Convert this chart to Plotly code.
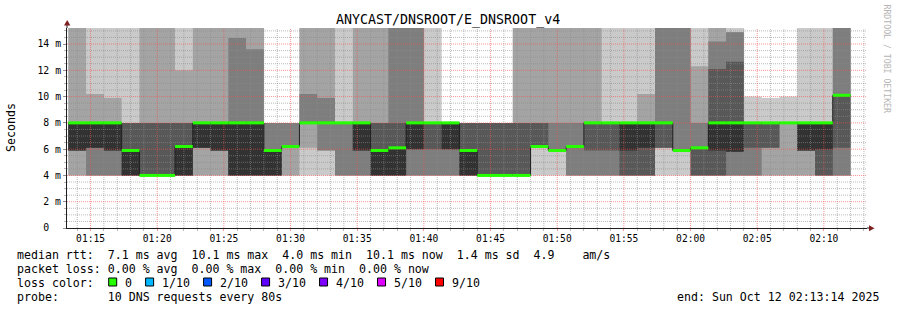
import plotly.graph_objects as go
from datetime import datetime, timedelta

# ---------------- data ----------------
first_step = "2025-10-12 01:13:20"
step_seconds = 80
axis_start = "2025-10-12 01:13:14"
axis_end = "2025-10-12 02:13:14"

# sorted ping round-trip times (ms) of the 10 probes in each 80 s step
ping_1 = [4.0, 4.0, 4.0, 4.0, 4.0, 4.0, 4.0, 4.0, 4.0, 4.0, 4.0, 4.0, 4.0, 4.0, 4.0, 4.0, 4.0, 4.0, 4.0, 4.0, 4.0, 4.0,
          4.0, 4.0, 4.0, 4.0, 4.0, 4.0, 4.0, 4.0, 4.0, 4.0, 4.0, 4.0, 4.0, 4.0, 4.0, 4.0, 4.0, 4.0, 4.0, 4.0, 4.0, 4.0]
ping_2 = [4.0, 4.0, 4.0, 4.0, 4.0, 4.0, 4.0, 4.0, 4.0, 4.0, 4.0, 4.0, 4.0, 6.1, 5.9, 4.0, 4.0, 4.0, 4.0, 4.0, 4.0, 4.0,
          4.0, 4.0, 4.0, 4.0, 6.2, 5.9, 4.0, 4.0, 4.0, 4.0, 4.0, 6.1, 5.9, 4.0, 4.0, 4.0, 4.0, 4.0, 4.0, 4.0, 4.0, 4.0]
ping_3 = [5.9, 4.0, 4.0, 4.0, 4.0, 4.0, 4.0, 6.1, 5.9, 4.0, 4.0, 4.0, 6.2, 8.0, 5.9, 4.0, 4.0, 4.0, 4.0, 4.0, 4.0, 4.0,
          4.0, 4.0, 4.0, 4.0, 6.2, 5.9, 4.0, 4.0, 4.0, 4.0, 4.0, 6.1, 5.9, 4.0, 4.0, 4.0, 4.0, 6.1, 8.0, 5.9, 4.0, 4.0]
ping_4 = [5.9, 6.1, 5.9, 4.0, 4.0, 4.0, 4.0, 6.1, 5.9, 4.0, 4.0, 4.0, 6.2, 8.0, 8.0, 8.0, 5.9, 4.0, 4.0, 6.0, 6.0, 6.0,
          4.0, 4.0, 4.0, 4.0, 6.2, 5.9, 6.2, 5.9, 5.9, 4.0, 4.0, 6.1, 5.9, 4.0, 4.0, 5.8, 6.1, 6.1, 8.0, 5.9, 4.0, 6.1]
ping_5 = [5.9, 6.1, 5.9, 4.0, 4.0, 4.0, 4.0, 6.1, 5.9, 4.0, 4.0, 4.0, 6.2, 8.0, 8.0, 8.0, 5.9, 4.0, 4.0, 6.0, 8.0, 6.0,
          4.0, 4.0, 4.0, 4.0, 6.2, 5.9, 6.2, 8.0, 8.0, 5.9, 6.1, 8.0, 5.9, 6.1, 5.9, 5.8, 8.0, 8.0, 8.0, 5.9, 6.0, 10.1]
ping_6 = [8.0, 8.0, 8.0, 5.9, 4.0, 4.0, 6.2, 8.0, 8.0, 8.0, 8.0, 5.9, 6.2, 8.0, 8.0, 8.0, 8.0, 5.9, 6.1, 8.0, 8.0, 8.0,
          5.9, 4.0, 4.0, 4.0, 6.2, 5.9, 6.2, 8.0, 8.0, 8.0, 8.0, 8.0, 5.9, 6.1, 8.0, 8.0, 8.0, 8.0, 8.0, 8.0, 8.0, 10.1]
ping_7 = [8.0, 8.0, 8.0, 8.0, 8.0, 8.0, 8.0, 8.0, 8.0, 8.0, 8.0, 5.9, 6.2, 8.0, 8.0, 8.0, 8.0, 8.0, 8.0, 8.0, 8.0, 8.0,
          8.0, 8.0, 8.0, 8.0, 8.0, 5.9, 6.2, 8.0, 8.0, 8.0, 8.0, 8.0, 5.9, 6.1, 12.1, 12.65, 8.0, 8.0, 8.0, 8.0, 8.0, 10.1]
ping_8 = [8.0, 8.0, 8.0, 8.0, 8.0, 8.0, 8.0, 8.0, 8.0, 14.45, 13.6, 8.0, 8.0, 10.2, 9.9, 8.0, 8.0, 8.0, 16.0, 16.0, 8.0, 8.0,
          8.0, 8.0, 8.0, 8.0, 8.0, 8.0, 8.0, 8.0, 8.0, 8.0, 8.0, 16.0, 16.0, 8.0, 14.2, 14.9, 8.0, 8.0, 8.0, 8.0, 8.0, 16.0]
ping_9 = [16.0, 10.2, 9.9, 8.0, 16.0, 16.0, 12.0, 16.0, 16.0, 16.0, 16.0, 8.0, 8.0, 16.0, 16.0, 8.0, 16.0, 16.0, 16.0, 16.0, 8.0, 8.0,
          8.0, 8.0, 8.0, 16.0, 16.0, 16.0, 16.0, 16.0, 8.0, 8.0, 10.2, 16.0, 16.0, 12.3, 16.0, 14.9, 8.0, 8.0, 8.0, 8.0, 8.0, 16.0]
ping_10 = [16.0, 16.0, 16.0, 16.0, 16.0, 16.0, 16.0, 16.0, 16.0, 16.0, 16.0, 8.0, 8.0, 16.0, 16.0, 16.0, 16.0, 16.0, 16.0, 16.0, 16.0, 8.0,
           8.0, 8.0, 8.0, 16.0, 16.0, 16.0, 16.0, 16.0, 16.0, 16.0, 16.0, 16.0, 16.0, 16.0, 16.0, 16.0, 10.0, 9.9, 10.0, 16.0, 16.0, 16.0]

median_rtt = [8.0, 8.0, 8.0, 5.9, 4.0, 4.0, 6.2, 8.0, 8.0, 8.0, 8.0, 5.9, 6.2, 8.0, 8.0, 8.0, 8.0, 5.9, 6.1, 8.0, 8.0, 8.0,
              5.9, 4.0, 4.0, 4.0, 6.2, 5.9, 6.2, 8.0, 8.0, 8.0, 8.0, 8.0, 5.9, 6.1, 8.0, 8.0, 8.0, 8.0, 8.0, 8.0, 8.0, 10.1]

y_tick_vals = [0, 2, 4, 6, 8, 10, 12, 14]
y_tick_text = ["0\u00a0\u00a0", "2\u00a0m", "4\u00a0m", "6\u00a0m", "8\u00a0m", "10\u00a0m", "12\u00a0m", "14\u00a0m"]

loss_labels = ["0", "1/10", "2/10", "3/10", "4/10", "5/10", "9/10"]
loss_colors = ["#26ff00", "#00b8ff", "#0059ff", "#5e00ff", "#7e00ff", "#dd00ff", "#ff0000"]

title_text = "ANYCAST/DNSROOT/E_DNSROOT_v4"
line_median = "median rtt:  7.1 ms avg  10.1 ms max  4.0 ms min  10.1 ms now  1.4 ms sd  4.9    am/s"
line_loss = "packet loss: 0.00 % avg  0.00 % max  0.00 % min  0.00 % now"
line_color = "loss color:"
line_probe = "probe:       10 DNS requests every 80s"
line_end = "end: Sun Oct 12 02:13:14 2025"

# ---------------- geometry ----------------
W, H = 897, 310
L, R, T, B = 67, 30, 28, 82
PW, PH = W - L - R, H - T - B
Y_TOP = 15.22
FONT = "DejaVu Sans Mono"


def px(x):
    return (x - L) / PW


def py(y):
    return (H - B - y) / PH


def nb(s):
    return s.replace(" ", "\u00a0")


t0 = datetime.fromisoformat(first_step)
n = len(median_rtt)
starts = [t0 + timedelta(seconds=step_seconds * k) for k in range(n)]
ends = [s + timedelta(seconds=step_seconds) for s in starts]
pings = [ping_1, ping_2, ping_3, ping_4, ping_5, ping_6, ping_7, ping_8, ping_9, ping_10]

fig = go.Figure()

# smoke: nested bands between ping i and ping (11-i)
smoke_shades = ["#cacaca", "#a4a4a4", "#7e7e7e", "#585858", "#323232"]
for i, shade in enumerate(smoke_shades):
    bot, top = pings[i], pings[9 - i]
    xs, ys = [], []
    for k in range(n):
        xs += [starts[k], ends[k]]
        ys += [top[k], top[k]]
    for k in reversed(range(n)):
        xs += [ends[k], starts[k]]
        ys += [bot[k], bot[k]]
    fig.add_trace(go.Scatter(x=xs, y=ys, mode="lines", fill="toself", fillcolor=shade,
                             line=dict(width=0, color=shade), hoverinfo="skip"))

# grid drawn above the smoke
ax0 = datetime.fromisoformat(axis_start)
ax1 = datetime.fromisoformat(axis_end)
minute = datetime(ax0.year, ax0.month, ax0.day, ax0.hour, ax0.minute) + timedelta(minutes=1)
minor_x, major_x = [], []
while minute <= ax1:
    (major_x if minute.minute % 5 == 0 else minor_x).append(minute)
    minute += timedelta(minutes=1)
minor_y = [v / 2 for v in range(1, int(Y_TOP * 2) + 1) if v % 4 != 0]
major_y = [v for v in y_tick_vals if v > 0]


def vlines(times):
    xs, ys = [], []
    for t in times:
        xs += [t, t, None]
        ys += [0, Y_TOP, None]
    return xs, ys


def hlines(vals):
    xs, ys = [], []
    for v in vals:
        xs += [ax0, ax1, None]
        ys += [v, v, None]
    return xs, ys


grid_minor = "rgba(140,140,140,0.6)"
grid_major = "rgba(245,79,79,0.6)"
for (xs, ys), col in [(vlines(minor_x), grid_minor), (hlines(minor_y), grid_minor),
                      (vlines(major_x), grid_major), (hlines(major_y), grid_major)]:
    fig.add_trace(go.Scatter(x=xs, y=ys, mode="lines", line=dict(color=col, width=1, dash="1px,1px"),
                             hoverinfo="skip", connectgaps=False))

# median: thin dark step line, green segments (loss 0)
fig.add_trace(go.Scatter(x=starts + [ends[-1]], y=median_rtt + [median_rtt[-1]], mode="lines",
                         line=dict(color="#202020", width=1, shape="hv"), hoverinfo="skip"))
gx, gy = [], []
for k in range(n):
    gx += [starts[k], ends[k], None]
    gy += [median_rtt[k], median_rtt[k], None]
fig.add_trace(go.Scatter(x=gx, y=gy, mode="lines", line=dict(color=loss_colors[0], width=3),
                         hoverinfo="skip", connectgaps=False))

fig.update_layout(
    width=W, height=H, margin=dict(l=L, r=R, t=T, b=B, pad=0),
    paper_bgcolor="white", plot_bgcolor="white", showlegend=False, hovermode=False,
    font=dict(family=FONT, color="black"),
)
fig.update_xaxes(
    type="date", range=[axis_start, axis_end], tickformat="%H:%M", dtick=300000,
    tick0="2025-10-12 01:15:00", showgrid=False, zeroline=False,
    showline=True, linecolor="#1f1f1f", linewidth=1,
    ticks="outside", ticklen=2, tickcolor=grid_major, ticklabelstandoff=-1,
    tickfont=dict(size=9.6, family=FONT, color="black"),
    minor=dict(dtick=60000, ticks="outside", ticklen=2, tickcolor=grid_minor, showgrid=False),
)
fig.update_yaxes(
    range=[0, Y_TOP], tickvals=y_tick_vals, ticktext=y_tick_text, showgrid=False, zeroline=False,
    showline=True, linecolor="#1f1f1f", linewidth=1,
    ticks="outside", ticklen=3, tickcolor="rgba(140,140,140,0.9)",
    tickfont=dict(size=9.8, family=FONT, color="black"),
    minor=dict(dtick=0.5, ticks="outside", ticklen=2, tickcolor=grid_minor, showgrid=False),
)

ann = []


def text(s, x, y, size, xanchor="left", color="black", angle=0):
    ann.append(dict(text=nb(s), x=px(x), y=py(y), xref="paper", yref="paper", xanchor=xanchor,
                    yanchor="middle", showarrow=False, borderpad=0, textangle=angle,
                    font=dict(family=FONT, size=size, color=color)))


text(title_text, 448, 20, 13.3, xanchor="center")
text("Seconds", 11, 127, 11.6, xanchor="center", angle=-90)
text("RRDTOOL / TOBI OETIKER", 886.5, 59, 8.2, xanchor="center", color="#b4b4b4", angle=90)
CW = 7.02
text(line_median, 16, 255, 11.6)
text(line_loss, 16, 269, 11.6)
text(line_color, 16, 283, 11.6)
text(line_probe, 16, 297, 11.6)
text(line_end, 880, 297, 11.6, xanchor="right")

shapes = []
sx = 108.7
for lab, col in zip(loss_labels, loss_colors):
    shapes.append(dict(type="rect", xref="paper", yref="paper", x0=px(sx), x1=px(sx + 8),
                       y0=py(286), y1=py(278), fillcolor=col, line=dict(color="black", width=1)))
    lx = sx + 15.3
    text(lab, lx, 283, 11.6)
    sx = lx + len(lab) * CW + 14.6

# axis extensions and arrows
arrow = "#801f1f"
shapes.append(dict(type="line", xref="paper", yref="paper", x0=1, x1=px(870), y0=0, y1=0,
                   line=dict(color="#1f1f1f", width=1)))
shapes.append(dict(type="line", xref="paper", yref="paper", x0=0, x1=0, y0=1, y1=py(23),
                   line=dict(color="#1f1f1f", width=1)))
shapes.append(dict(type="path", xref="paper", yref="paper",
                   path=f"M {px(869)} {py(225.3)} L {px(874.5)} {py(228.3)} L {px(869)} {py(231.3)} Z",
                   fillcolor=arrow, line=dict(color=arrow, width=0)))
shapes.append(dict(type="path", xref="paper", yref="paper",
                   path=f"M {px(64)} {py(25.5)} L {px(67.2)} {py(20)} L {px(70.4)} {py(25.5)} Z",
                   fillcolor=arrow, line=dict(color=arrow, width=0)))

fig.update_layout(annotations=ann, shapes=shapes)
fig.write_html("out.html")
